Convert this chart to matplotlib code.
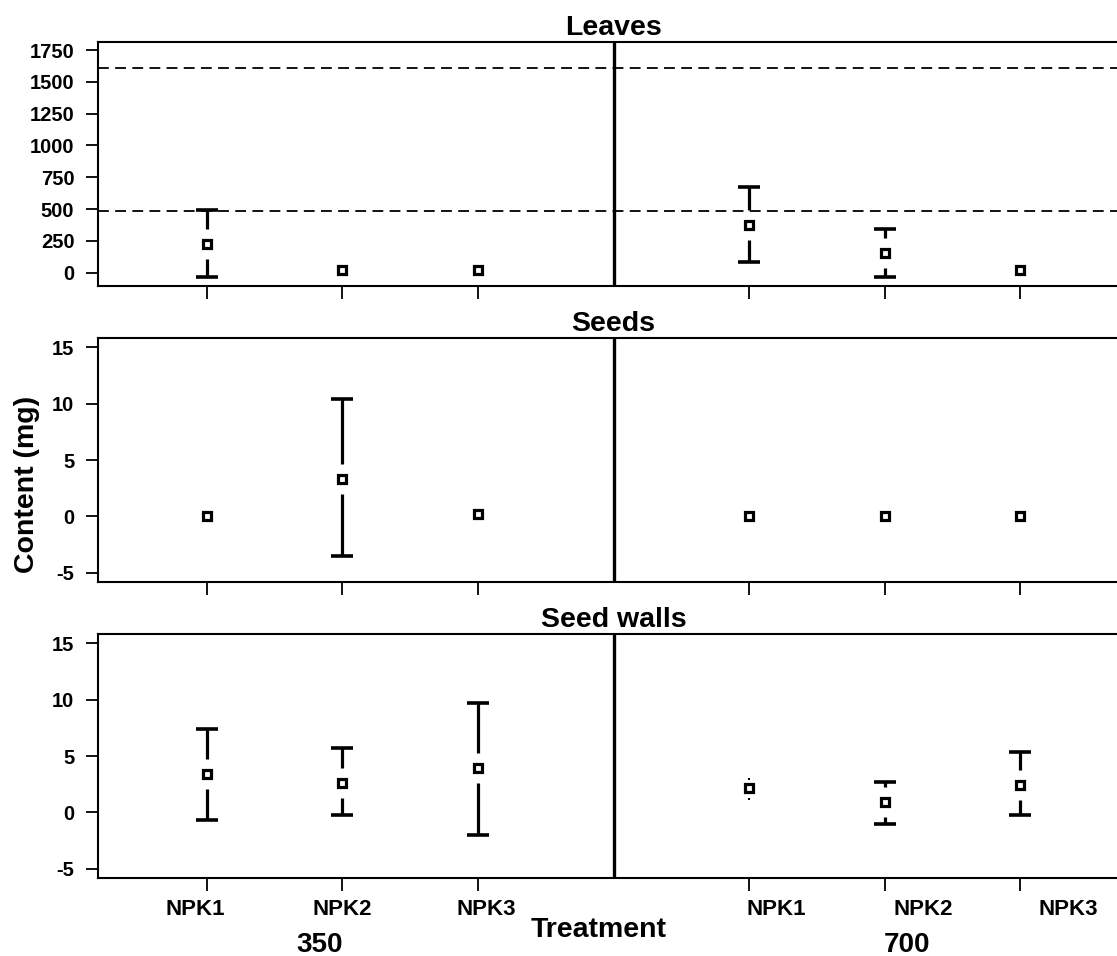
import matplotlib
matplotlib.use('Agg')
import matplotlib.pyplot as plt
import numpy as np

plt.rcParams['font.family'] = ['Liberation Sans', 'DejaVu Sans']
plt.rcParams['font.weight'] = 'bold'
plt.rcParams['axes.unicode_minus'] = False

# treatment positions: 350 ppm on the left, 700 ppm on the right
positions = [1, 2, 3, 5, 6, 7]
treatments = ['NPK1', 'NPK2', 'NPK3', 'NPK1', 'NPK2', 'NPK3']
label_x = [0.92, 2.0, 3.06, 5.2, 6.28, 7.35]
groups = ['350', '700']

leaves_mean = [228, 20, 20, 377, 157, 20]
leaves_lo = [-31, 20, 20, 86, -31, 20]
leaves_hi = [494, 20, 20, 675, 345, 20]
leaves_refs = [487, 1610]

seeds_mean = [0, 3.35, 0.26, 0, 0, 0]
seeds_lo = [0, -3.5, 0.26, 0, 0, 0]
seeds_hi = [0, 10.4, 0.26, 0, 0, 0]

walls_mean = [3.4, 2.6, 3.9, 2.15, 0.9, 2.4]
walls_lo = [-0.7, -0.2, -2.0, 1.2, -1.0, -0.2]
walls_hi = [7.4, 5.75, 9.7, 2.95, 2.7, 5.35]

W, H = 1117, 956
fig = plt.figure(figsize=(W / 100, H / 100), dpi=100)


def px_axes(top, bottom, left=98, right=1129):
    return fig.add_axes([left / W, 1 - bottom / H, (right - left) / W, (bottom - top) / H])


def ci_panel(ax, mean, lo, hi, ylim, yticks, title, gap_px=15):
    ax.set_xlim(0.2, 7.8)
    ax.set_ylim(*ylim)
    gap = gap_px / 244 * (ylim[1] - ylim[0])
    for x, m, l, h in zip(positions, mean, lo, hi):
        for end in (h, l):
            d = end - m
            if abs(d) > gap:
                ax.plot([x, x], [m + np.sign(d) * gap, end], color='black', lw=2.3,
                        solid_capstyle='butt')
                ax.plot(x, end, marker='_', ms=16, mew=2.6, color='black')
            elif abs(d) > 0:
                ax.plot(x, end, marker='s', ms=1.6, color='black', mew=0)
        ax.plot(x, m, marker='s', ms=5.6, mfc='white', mec='black', mew=2.3)
    ax.axvline(4, color='black', lw=2.4)
    ax.set_yticks(yticks)
    ax.set_xticks(positions)
    ax.set_xticklabels([])
    ax.tick_params(axis='both', length=9, width=1.3, direction='out')
    ax.tick_params(axis='y', labelsize=14.5, pad=8)
    for s in ax.spines.values():
        s.set_linewidth(1.5)
    ax.set_title(title, fontsize=20.5, fontweight='bold', pad=5)


ax1 = px_axes(42, 286)
ci_panel(ax1, leaves_mean, leaves_lo, leaves_hi, (-104, 1813),
         [0, 250, 500, 750, 1000, 1250, 1500, 1750], 'Leaves')
for r in leaves_refs:
    ax1.axhline(r, color='black', lw=1.3, dashes=(6, 3.5))

ax2 = px_axes(338, 582)
ci_panel(ax2, seeds_mean, seeds_lo, seeds_hi, (-5.8, 15.8), [-5, 0, 5, 10, 15], 'Seeds')

ax3 = px_axes(634, 878)
ci_panel(ax3, walls_mean, walls_lo, walls_hi, (-5.8, 15.8), [-5, 0, 5, 10, 15], 'Seed walls')

# treatment names under the bottom panel
for lx, name in zip(label_x, treatments):
    ax3.text(lx, -0.131, name, transform=ax3.get_xaxis_transform(),
             ha='center', va='center', fontsize=16, fontweight='bold')

fig.text(320 / W, 1 - 945 / H, groups[0], ha='center', va='center', fontsize=20, fontweight='bold')
fig.text(907 / W, 1 - 945 / H, groups[1], ha='center', va='center', fontsize=20, fontweight='bold')
fig.text(599 / W, 1 - 930 / H, 'Treatment', ha='center', va='center', fontsize=20.5, fontweight='bold')
fig.text(27 / W, 1 - 484 / H, 'Content (mg)', ha='center', va='center', rotation=90,
         fontsize=20.5, fontweight='bold')

fig.savefig('out.png', dpi=100)
